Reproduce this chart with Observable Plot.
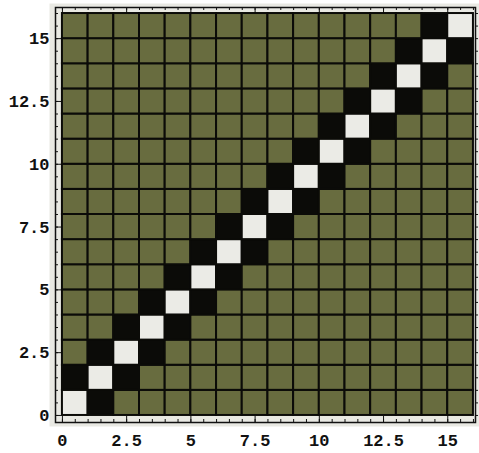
<!DOCTYPE html>
<html>
<head>
<meta charset="utf-8">
<script src="https://cdn.jsdelivr.net/npm/d3@7"></script>
<script src="https://cdn.jsdelivr.net/npm/@observablehq/plot@0.6"></script>
<style>
  html, body { margin: 0; padding: 0; background: #ffffff; }
</style>
</head>
<body>
<div id="chart"></div>
<script>
// Matrix values (row 0 = bottom row). 2 = diagonal, -1 = neighbour, 0 = elsewhere
const matrix = [
  [ 2,-1, 0, 0, 0, 0, 0, 0, 0, 0, 0, 0, 0, 0, 0, 0],
  [-1, 2,-1, 0, 0, 0, 0, 0, 0, 0, 0, 0, 0, 0, 0, 0],
  [ 0,-1, 2,-1, 0, 0, 0, 0, 0, 0, 0, 0, 0, 0, 0, 0],
  [ 0, 0,-1, 2,-1, 0, 0, 0, 0, 0, 0, 0, 0, 0, 0, 0],
  [ 0, 0, 0,-1, 2,-1, 0, 0, 0, 0, 0, 0, 0, 0, 0, 0],
  [ 0, 0, 0, 0,-1, 2,-1, 0, 0, 0, 0, 0, 0, 0, 0, 0],
  [ 0, 0, 0, 0, 0,-1, 2,-1, 0, 0, 0, 0, 0, 0, 0, 0],
  [ 0, 0, 0, 0, 0, 0,-1, 2,-1, 0, 0, 0, 0, 0, 0, 0],
  [ 0, 0, 0, 0, 0, 0, 0,-1, 2,-1, 0, 0, 0, 0, 0, 0],
  [ 0, 0, 0, 0, 0, 0, 0, 0,-1, 2,-1, 0, 0, 0, 0, 0],
  [ 0, 0, 0, 0, 0, 0, 0, 0, 0,-1, 2,-1, 0, 0, 0, 0],
  [ 0, 0, 0, 0, 0, 0, 0, 0, 0, 0,-1, 2,-1, 0, 0, 0],
  [ 0, 0, 0, 0, 0, 0, 0, 0, 0, 0, 0,-1, 2,-1, 0, 0],
  [ 0, 0, 0, 0, 0, 0, 0, 0, 0, 0, 0, 0,-1, 2,-1, 0],
  [ 0, 0, 0, 0, 0, 0, 0, 0, 0, 0, 0, 0, 0,-1, 2,-1],
  [ 0, 0, 0, 0, 0, 0, 0, 0, 0, 0, 0, 0, 0, 0,-1, 2]
];

const xTickLabels = [0, 2.5, 5, 7.5, 10, 12.5, 15];
const yTickLabels = [0, 2.5, 5, 7.5, 10, 12.5, 15];
const minorTicks = [0, 0.5, 1, 1.5, 2, 2.5, 3, 3.5, 4, 4.5, 5, 5.5, 6, 6.5, 7, 7.5,
  8, 8.5, 9, 9.5, 10, 10.5, 11, 11.5, 12, 12.5, 13, 13.5, 14, 14.5, 15, 15.5, 16];
const majorTicks = [0, 2.5, 5, 7.5, 10, 12.5, 15];

const cellValues = [-1, 0, 2];
const cellColors = ["#0b0b08", "#686c3f", "#ebebe6"];

// build cell table from the matrix
const cells = matrix.flatMap((row, j) => row.map((v, i) => ({x: i, y: j, v})));

const xDomain = [-0.27, 16.08];
const yDomain = [-0.28, 16.24];
const pxX = 25.69, pxY = 25.125; // pixels per unit, for tick lengths

const chart = Plot.plot({
  width: 479,
  height: 453,
  marginLeft: 55,
  marginRight: 4,
  marginTop: 7,
  marginBottom: 31,
  style: {background: "transparent", fontFamily: "Liberation Mono", fontWeight: "bold", fontSize: "17px", color: "#111"},
  x: {domain: xDomain, axis: null},
  y: {domain: yDomain, axis: null},
  color: {type: "ordinal", domain: cellValues, range: cellColors},
  marks: [
    Plot.frame({fill: "#e9e9e3", stroke: null, insetLeft: -6, insetTop: -4, insetRight: -4, insetBottom: -4}),
    // minor ticks
    Plot.ruleX(minorTicks, {x: d => d, y1: yDomain[0], y2: yDomain[0] + 3 / pxY, stroke: "#111", strokeWidth: 1}),
    Plot.ruleX(minorTicks, {x: d => d, y1: yDomain[1], y2: yDomain[1] - 3 / pxY, stroke: "#111", strokeWidth: 1}),
    Plot.ruleY(minorTicks, {y: d => d, x1: xDomain[0], x2: xDomain[0] + 3 / pxX, stroke: "#111", strokeWidth: 1}),
    Plot.ruleY(minorTicks, {y: d => d, x1: xDomain[1], x2: xDomain[1] + 3 / pxX, stroke: "#111", strokeWidth: 1}),
    // major ticks
    Plot.ruleX(majorTicks, {x: d => d, y1: yDomain[0], y2: yDomain[0] + 6 / pxY, stroke: "#111", strokeWidth: 1}),
    Plot.ruleX(majorTicks, {x: d => d, y1: yDomain[1], y2: yDomain[1] - 6 / pxY, stroke: "#111", strokeWidth: 1}),
    Plot.ruleY(majorTicks, {y: d => d, x1: xDomain[0], x2: xDomain[0] + 6 / pxX, stroke: "#111", strokeWidth: 1}),
    Plot.frame({stroke: "#111", strokeWidth: 1.5}),
    Plot.rect(cells, {
      x1: d => d.x, x2: d => d.x + 1,
      y1: d => d.y, y2: d => d.y + 1,
      fill: "v", stroke: "#0b0b08", strokeWidth: 2
    }),
    Plot.axisX({ticks: xTickLabels, tickSize: 0, tickPadding: 11, tickFormat: d => String(d)}),
    Plot.axisY({ticks: yTickLabels, tickSize: 0, tickPadding: 6, tickFormat: d => String(d)})
  ]
});

document.getElementById("chart").append(chart);
</script>
</body>
</html>
